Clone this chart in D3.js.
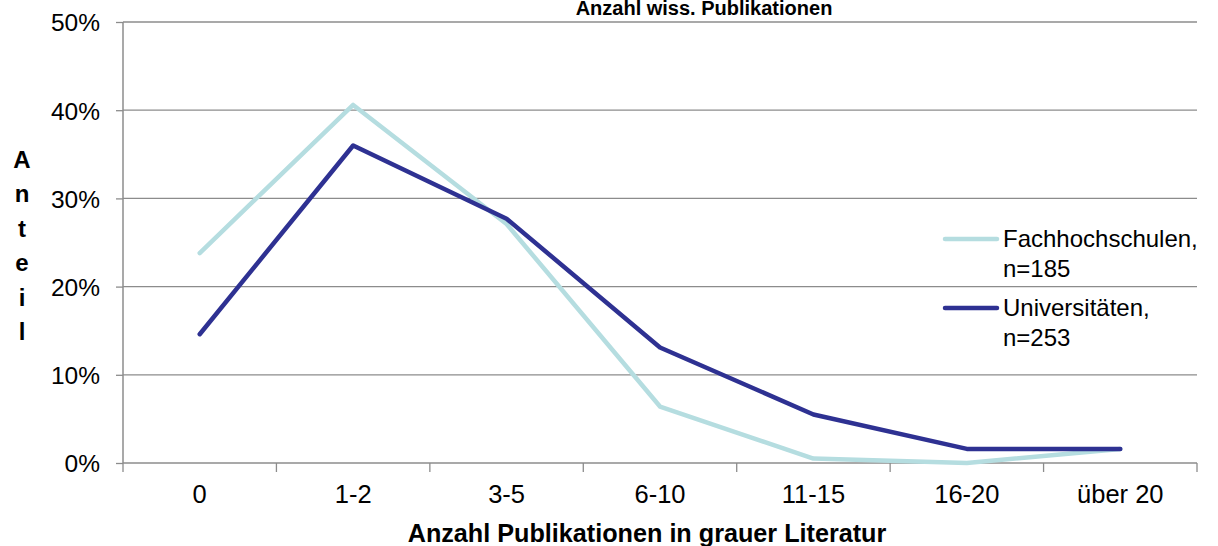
<!DOCTYPE html>
<html>
<head>
<meta charset="utf-8">
<script src="https://cdn.jsdelivr.net/npm/d3@7"></script>
<style>
  html, body { margin: 0; padding: 0; background: #fff; }
  svg { display: block; font-family: "Liberation Sans", Arial, sans-serif; }
</style>
</head>
<body>
<svg id="chart" width="1218" height="546"></svg>
<script>
const categories = ["0", "1-2", "3-5", "6-10", "11-15", "16-20", "über 20"];
const fachhochschulen = [23.8, 40.6, 27.1, 6.4, 0.5, 0.0, 1.6];
const universitaeten = [14.6, 36.0, 27.7, 13.1, 5.5, 1.6, 1.6];
const yTicks = [0, 10, 20, 30, 40, 50];
const seriesNames = [["Fachhochschulen,", "n=185"], ["Universitäten,", "n=253"]];
const seriesColors = ["#b5dde0", "#2e3192"];
const titleText = "Anzahl wiss. Publikationen";
const xTitle = "Anzahl Publikationen in grauer Literatur";
const yTitle = "Anteil";

(function () {
const svg = d3.select("#chart");
const pL = 123, pR = 1197, pT = 22, pB = 463;

const x = d3.scaleBand().domain(categories).range([pL, pR]);
const y = d3.scaleLinear().domain([0, 50]).range([pB, pT]);
const grid = "#8c8c8c";

// gridlines
svg.append("g").selectAll("line").data(yTicks.filter(d => d > 0)).join("line")
  .attr("x1", pL).attr("x2", pR)
  .attr("y1", d => y(d)).attr("y2", d => y(d))
  .attr("stroke", grid).attr("stroke-width", 1.3);

// y axis
const yAxis = svg.append("g").attr("transform", `translate(${pL},0)`)
  .call(d3.axisLeft(y).tickValues(yTicks).tickFormat(d => d + "%").tickSize(7).tickPadding(16));
yAxis.select(".domain").attr("stroke", grid).attr("stroke-width", 1.5).attr("d", `M0,${pT}V${pB}`);
yAxis.selectAll(".tick line").attr("stroke", grid).attr("stroke-width", 1.3);
yAxis.selectAll(".tick text").attr("font-size", 24.5).attr("fill", "#000")
  .attr("font-family", "Liberation Sans, Arial, sans-serif").attr("dy", "0.36em");

// x axis
const xAxis = svg.append("g").attr("transform", `translate(0,${pB})`)
  .call(d3.axisBottom(x).tickSize(0).tickPadding(0));
xAxis.select(".domain").attr("stroke", grid).attr("stroke-width", 1.5).attr("d", `M${pL},0H${pR}`);
xAxis.selectAll(".tick text").attr("font-size", 25.5).attr("fill", "#000")
  .attr("font-family", "Liberation Sans, Arial, sans-serif").attr("y", 40).attr("dy", 0);
const bounds = categories.map(c => x(c)).concat([pR]);
xAxis.append("g").selectAll("line").data(bounds).join("line")
  .attr("x1", d => d).attr("x2", d => d).attr("y1", 0).attr("y2", 9)
  .attr("stroke", grid).attr("stroke-width", 1.3);

// lines
const line = d3.line().x((d, i) => x(categories[i]) + x.bandwidth() / 2).y(d => y(d));
[fachhochschulen, universitaeten].forEach((s, k) => {
  svg.append("path").datum(s).attr("d", line).attr("fill", "none")
    .attr("stroke", seriesColors[k]).attr("stroke-width", 4.5)
    .attr("stroke-linejoin", "round").attr("stroke-linecap", "round");
});

// legend
const legend = svg.append("g");
[239, 308].forEach((ly, k) => {
  legend.append("line").attr("x1", 945).attr("x2", 997).attr("y1", ly).attr("y2", ly)
    .attr("stroke", seriesColors[k]).attr("stroke-width", 4.5).attr("stroke-linecap", "round");
  const t = legend.append("text").attr("x", 1003).attr("y", ly + 8).attr("font-size", 24).attr("fill", "#000");
  t.append("tspan").attr("x", 1003).text(seriesNames[k][0]);
  t.append("tspan").attr("x", 1003).attr("dy", 30).text(seriesNames[k][1]);
});

// title
svg.append("text").attr("x", 704).attr("y", 15).attr("text-anchor", "middle")
  .attr("font-size", 20).attr("font-weight", "bold").text(titleText);

// x title
svg.append("text").attr("x", 647).attr("y", 542).attr("text-anchor", "middle")
  .attr("font-size", 25.2).attr("font-weight", "bold").text(xTitle);

// y title stacked letters
svg.append("g").selectAll("text").data(yTitle.split("")).join("text")
  .attr("x", 22).attr("y", (d, i) => 168 + i * 34.4).attr("text-anchor", "middle")
  .attr("font-size", 24).attr("font-weight", "bold").text(d => d);
})();
</script>
</body>
</html>
